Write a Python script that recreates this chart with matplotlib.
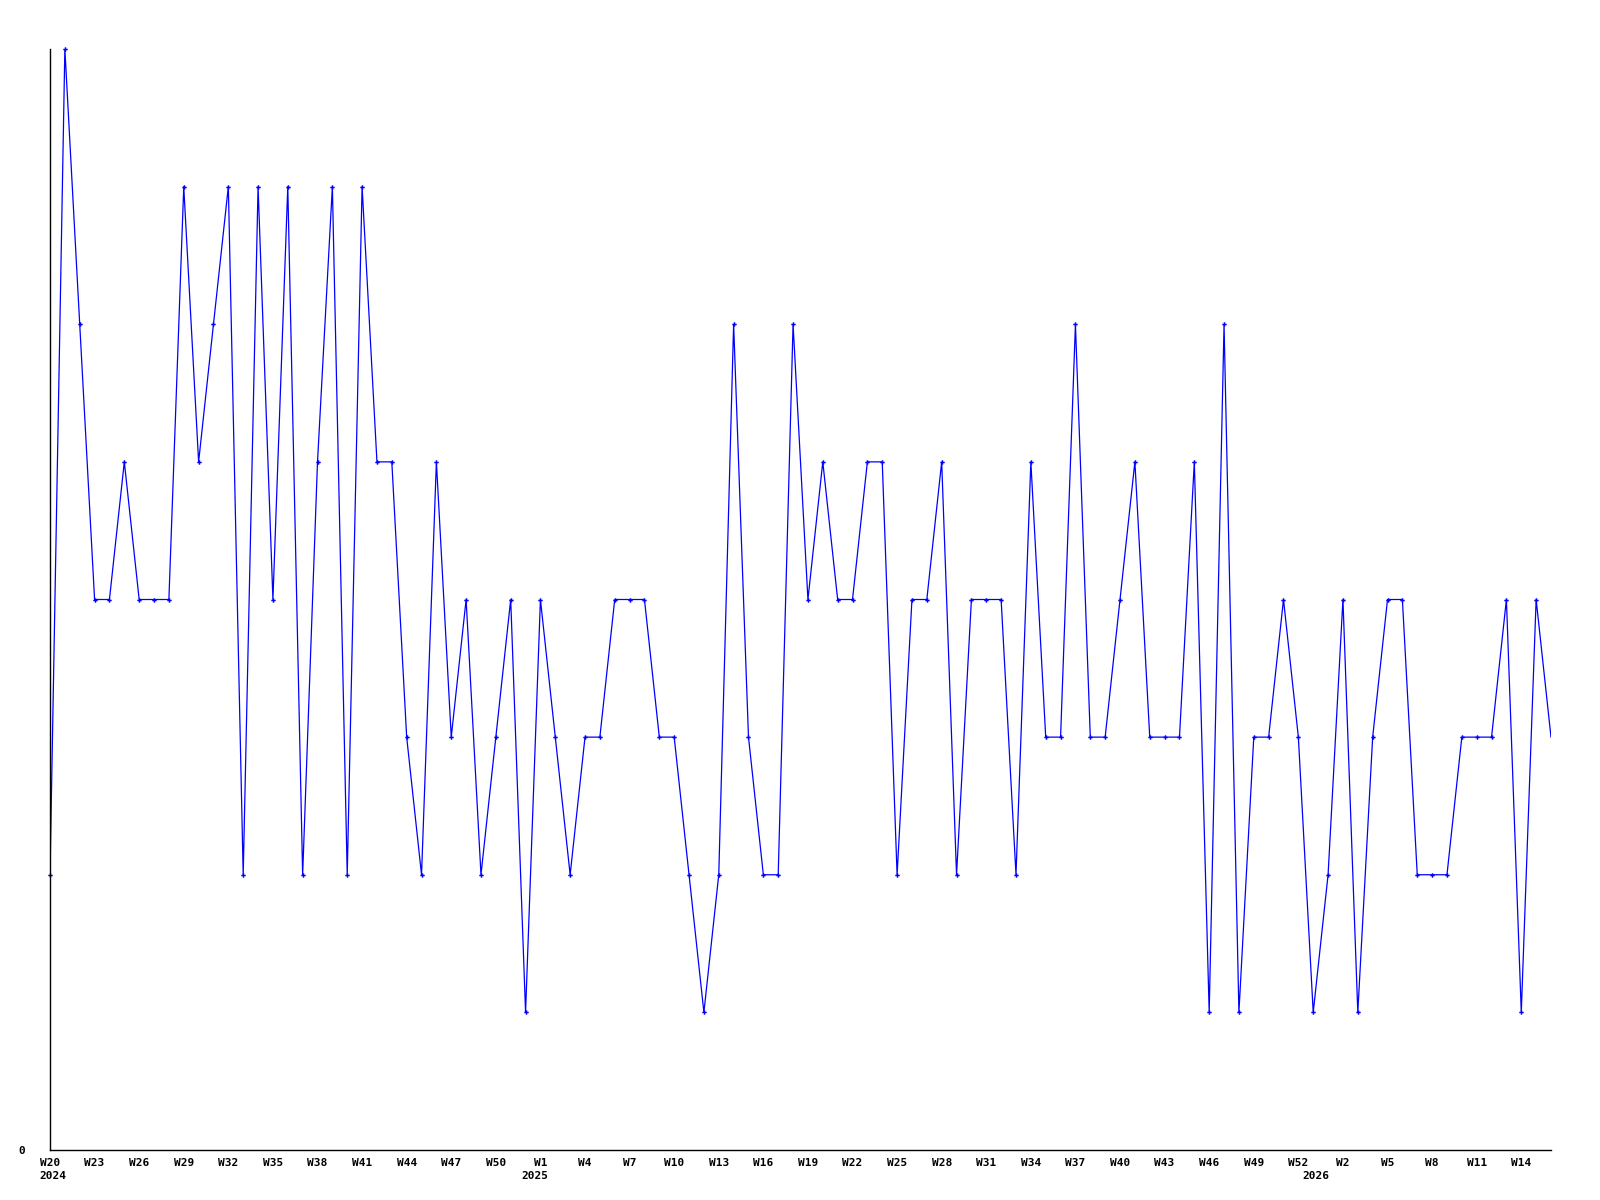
import numpy as np
import matplotlib
matplotlib.use('Agg')
import matplotlib.pyplot as plt
import matplotlib.transforms as mtransforms

# weekly counts, W20 2024 .. W16 2026 (last week still running, no marker)
values = [2, 8, 6, 4, 4, 5, 4, 4, 4, 7,
          5, 6, 7, 2, 7, 4, 7, 2, 5, 7,
          2, 7, 5, 5, 3, 2, 5, 3, 4, 2,
          3, 4, 1, 4, 3, 2, 3, 3, 4, 4,
          4, 3, 3, 2, 1, 2, 6, 3, 2, 2,
          6, 4, 5, 4, 4, 5, 5, 2, 4, 4,
          5, 2, 4, 4, 4, 2, 5, 3, 3, 6,
          3, 3, 4, 5, 3, 3, 3, 5, 1, 6,
          1, 3, 3, 4, 3, 1, 2, 4, 1, 3,
          4, 4, 2, 2, 2, 3, 3, 3, 4, 1,
          4, 3]

week_labels = ['W20', 'W23', 'W26', 'W29', 'W32', 'W35', 'W38', 'W41', 'W44',
               'W47', 'W50', 'W1', 'W4', 'W7', 'W10', 'W13', 'W16', 'W19',
               'W22', 'W25', 'W28', 'W31', 'W34', 'W37', 'W40', 'W43', 'W46',
               'W49', 'W52', 'W2', 'W5', 'W8', 'W11', 'W14']
years = ['2024', '2025', '2026']
year_pos = [0.2, 32.6, 85.2]

x = np.arange(len(values))

fig = plt.figure(figsize=(16, 12), dpi=100)
ax = fig.add_axes([50/1600, 1 - 1150/1200, 1501/1600, 1101/1200])

ax.plot(x, values, color='#0000ff', lw=0.9)
ax.plot(x[:-1], values[:-1], ls='none', marker='P', ms=3.2, mew=0,
        color='#0000ff', clip_on=False)

ax.set_xlim(0, len(values) - 1)
ax.set_ylim(0, 8)

for s in ['top', 'right']:
    ax.spines[s].set_visible(False)
for s in ['left', 'bottom']:
    ax.spines[s].set_linewidth(1.0)
    ax.spines[s].set_color('black')

ax.set_xticks(np.arange(0, 3 * len(week_labels), 3))
ax.set_xticklabels(week_labels, family='DejaVu Sans Mono', fontweight='bold', fontsize=8)
ax.set_yticks([0])
ax.set_yticklabels(['0'], family='DejaVu Sans Mono', fontweight='bold', fontsize=8)
ax.tick_params(axis='x', length=0, pad=6)
ax.tick_params(axis='y', length=0, pad=18)

trans = mtransforms.blended_transform_factory(ax.transData, ax.transAxes)
for yr, xp in zip(years, year_pos):
    ax.text(xp, -0.024, yr, transform=trans, ha='center', va='center',
            family='DejaVu Sans Mono', fontweight='bold', fontsize=8)

fig.savefig('out.png', dpi=100, facecolor='white')
